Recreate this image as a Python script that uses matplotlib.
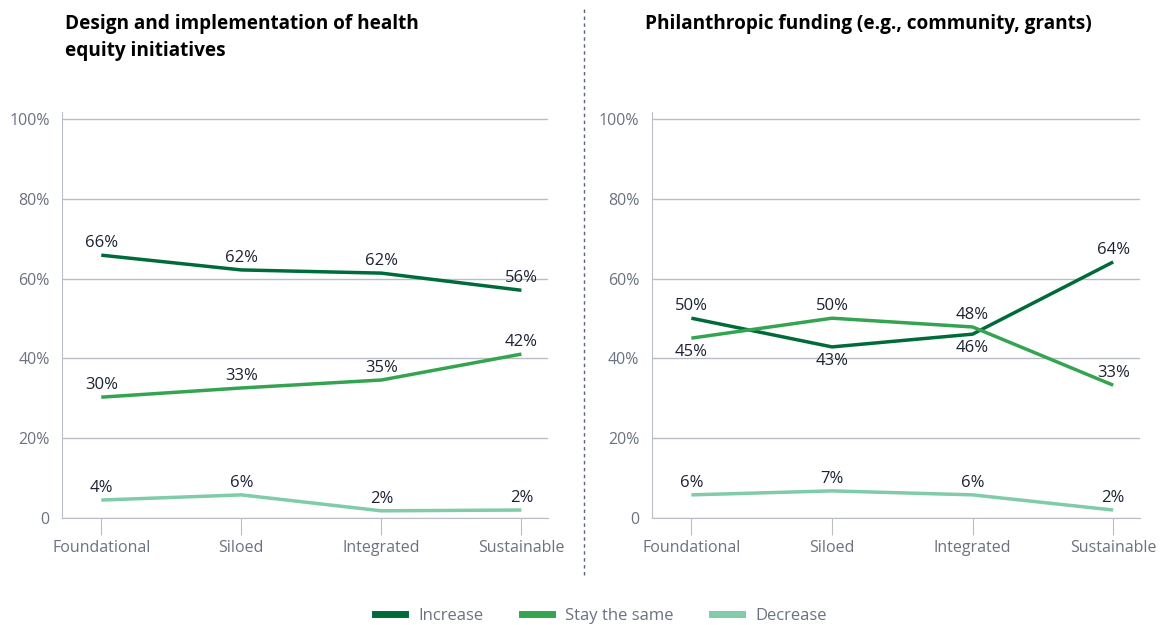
import matplotlib
matplotlib.use("Agg")
import matplotlib.pyplot as plt
from matplotlib.lines import Line2D

plt.rcParams['font.family'] = ['Open Sans', 'DejaVu Sans']

categories = ["Foundational", "Siloed", "Integrated", "Sustainable"]
series_names = ["Increase", "Stay the same", "Decrease"]
colors = ["#006B3A", "#35A451", "#80CBA8"]

# Left panel: Design and implementation of health equity initiatives
left_title = "Design and implementation of health\nequity initiatives"
left_increase = [65.9, 62.2, 61.4, 57.1]
left_stay = [30.3, 32.6, 34.6, 41.1]
left_decrease = [4.5, 5.8, 1.8, 2.0]
left_increase_labels = ["66%", "62%", "62%", "56%"]
left_stay_labels = ["30%", "33%", "35%", "42%"]
left_decrease_labels = ["4%", "6%", "2%", "2%"]

# Right panel: Philanthropic funding
right_title = "Philanthropic funding (e.g., community, grants)"
right_increase = [50.1, 42.9, 46.1, 64.2]
right_stay = [45.1, 50.1, 47.9, 33.3]
right_decrease = [5.8, 6.8, 5.8, 2.0]
right_increase_labels = ["50%", "43%", "46%", "64%"]
right_stay_labels = ["45%", "50%", "48%", "33%"]
right_decrease_labels = ["6%", "7%", "6%", "2%"]
# +1 above, -1 below
right_increase_pos = [1, -1, -1, 1]
right_stay_pos = [-1, 1, 1, 1]

y_ticks = [0, 20, 40, 60, 80, 100]
y_ticklabels = ["0", "20%", "40%", "60%", "80%", "100%"]

fig = plt.figure(figsize=(11.62, 6.25), dpi=100)
ax1 = fig.add_axes([0.0534, 0.1712, 0.4182, 0.6496])
ax2 = fig.add_axes([0.5611, 0.1712, 0.4199, 0.6496])

grid_c = "#b9bec6"
tick_c = "#6b7280"
lab_c = "#1c2233"


def style(ax):
    ax.set_ylim(0, 101.8)
    ax.set_xlim(-0.28, 3.19)
    ax.set_yticks(y_ticks)
    ax.set_yticklabels(y_ticklabels)
    ax.set_xticks(range(len(categories)))
    ax.set_xticklabels(categories)
    for s in ["top", "right"]:
        ax.spines[s].set_visible(False)
    ax.spines["left"].set_color(grid_c)
    ax.spines["bottom"].set_color(grid_c)
    ax.grid(axis="y", color=grid_c, linewidth=1)
    ax.set_axisbelow(True)
    ax.tick_params(axis="y", length=0, pad=9, labelsize=11.5, labelcolor=tick_c)
    ax.tick_params(axis="x", length=12, color=grid_c, pad=4, labelsize=11.5, labelcolor=tick_c)


def draw(ax, data, labels, positions):
    x = range(len(categories))
    for vals, labs, col, pos in zip(data, labels, colors, positions):
        ax.plot(x, vals, color=col, linewidth=2.5, solid_capstyle="butt")
        for xi, v, l, p in zip(x, vals, labs, pos):
            off = 3 if p > 0 else -4.5
            ax.annotate(l, (xi, v), xytext=(0, off), textcoords="offset points",
                        ha="center", va="bottom" if p > 0 else "top",
                        fontsize=12, color=lab_c)


style(ax1)
style(ax2)
draw(ax1, [left_increase, left_stay, left_decrease],
     [left_increase_labels, left_stay_labels, left_decrease_labels],
     [[1] * 4, [1] * 4, [1] * 4])
draw(ax2, [right_increase, right_stay, right_decrease],
     [right_increase_labels, right_stay_labels, right_decrease_labels],
     [right_increase_pos, right_stay_pos, [1] * 4])

fig.text(0.056, 0.977, left_title, ha="left", va="top", fontsize=13.7,
         fontweight="bold", color="#000000", linespacing=1.45)
fig.text(0.555, 0.977, right_title, ha="left", va="top", fontsize=13.7,
         fontweight="bold", color="#000000")

fig.add_artist(Line2D([0.5026, 0.5026], [0.08, 0.99], transform=fig.transFigure,
                      color="#5a6478", linewidth=1, linestyle=(0, (2.5, 2.5))))

handles = [Line2D([0], [0], color=c, linewidth=5) for c in colors]
leg = fig.legend(handles, series_names, loc="center", bbox_to_anchor=(0.517, 0.015),
                 ncol=3, frameon=False, fontsize=12, handlelength=1.8,
                 columnspacing=2.3, handletextpad=0.8)
for t in leg.get_texts():
    t.set_color(tick_c)

fig.savefig("out.png", dpi=100)
